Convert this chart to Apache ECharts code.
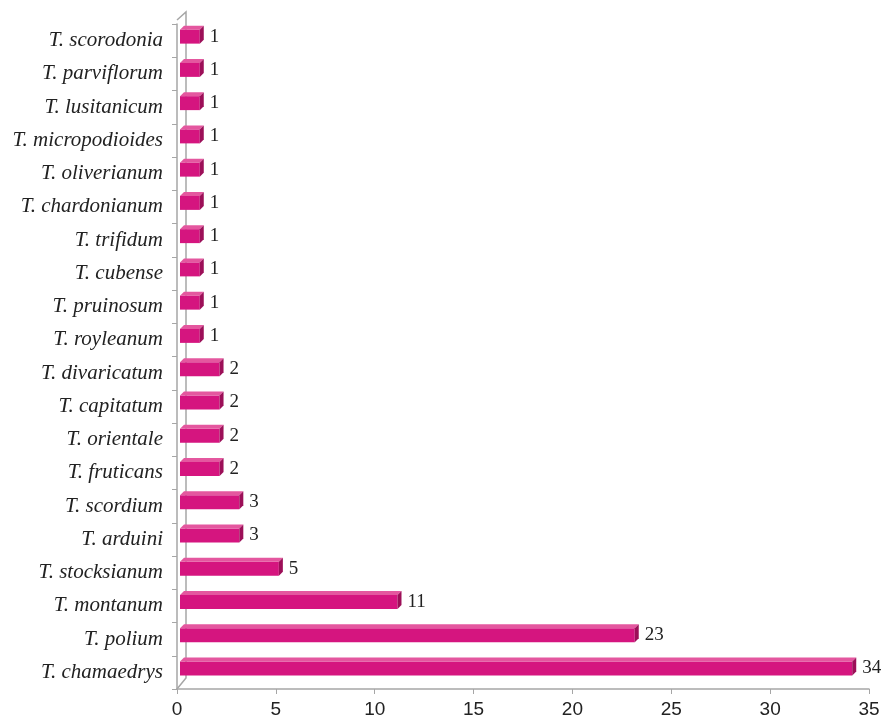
<!DOCTYPE html>
<html>
<head>
<meta charset="utf-8">
<script src="https://cdn.jsdelivr.net/npm/echarts@6/dist/echarts.min.js"></script>
<style>
  html, body { margin: 0; padding: 0; background: #fff; }
  #chart { width: 888px; height: 719px; }
</style>
</head>
<body>
<div id="chart"></div>
<script>
var species = ['T. chamaedrys', 'T. polium', 'T. montanum', 'T. stocksianum', 'T. arduini',
  'T. scordium', 'T. fruticans', 'T. orientale', 'T. capitatum', 'T. divaricatum',
  'T. royleanum', 'T. pruinosum', 'T. cubense', 'T. trifidum', 'T. chardonianum',
  'T. oliverianum', 'T. micropodioides', 'T. lusitanicum', 'T. parviflorum', 'T. scorodonia'];
var counts = [34, 23, 11, 5, 3, 3, 2, 2, 2, 2, 1, 1, 1, 1, 1, 1, 1, 1, 1, 1];
var xTicks = [0, 35, 5];

var dom = document.getElementById('chart');
var myChart = echarts.init(dom);

var axisGray = '#a6a6a6';
var depth = 4;

function renderBar(params, api) {
	var v = api.value(0);
	var cat = api.value(1);
	var start = api.coord([0, cat]);
	var end = api.coord([v, cat]);
	var h = 14;
	var cy = start[1] - 4;
	var x0 = start[0] + 3;
	var x1 = end[0] + 3;
	var yT = cy - h / 2;
	var yB = cy + h / 2;
	return {
		type: 'group',
		children: [
			{
				type: 'rect',
				shape: { x: x0, y: yT, width: x1 - x0, height: h },
				style: { fill: '#d5157f' }
			},
			{
				type: 'polygon',
				shape: { points: [[x0, yT], [x0 + depth, yT - depth], [x1 + depth, yT - depth], [x1, yT]] },
				style: { fill: '#e4579f' }
			},
			{
				type: 'polygon',
				shape: { points: [[x1, yT], [x1 + depth, yT - depth], [x1 + depth, yB - depth], [x1, yB]] },
				style: { fill: '#9c0f58' }
			},
			{
				type: 'text',
				style: {
					text: String(v),
					x: x1 + depth + 6,
					y: cy,
					verticalAlign: 'middle',
					fill: '#222',
					font: '19px "Liberation Serif", serif'
				}
			}
		]
	};
}

option = {
	backgroundColor: '#fff',
	animation: false,
	grid: {
		left: 177,
		right: 19,
		top: 24,
		bottom: 28
	},
	xAxis: {
		type: 'value',
		min: xTicks[0],
		max: xTicks[1],
		interval: xTicks[2],
		axisLine: { show: true, lineStyle: { color: axisGray, width: 1.5 } },
		axisTick: { show: true, length: 5, lineStyle: { color: axisGray } },
		splitLine: { show: false },
		axisLabel: {
			color: '#222',
			fontSize: 19,
			fontFamily: 'Liberation Sans',
			margin: 11
		}
	},
	yAxis: {
		type: 'category',
		data: species,
		axisLine: { show: true, lineStyle: { color: axisGray, width: 1.5 } },
		axisTick: { show: true, length: 5, lineStyle: { color: axisGray } },
		axisLabel: {
			color: '#222',
			fontSize: 21,
			fontStyle: 'italic',
			fontFamily: 'Liberation Serif',
			margin: 14
		}
	},
	series: [
		{
			type: 'custom',
			renderItem: renderBar,
			encode: { x: 0, y: 1 },
			data: counts.map(function(c, i) { return [c, i]; })
		}
	]
};

myChart.setOption(option, true);

// 3D wall lines behind the bars
var topLeft = myChart.convertToPixel({ gridIndex: 0 }, [0, species.length - 1]);
var botLeft = myChart.convertToPixel({ gridIndex: 0 }, [0, 0]);
var band = Math.abs(topLeft[1] - botLeft[1]) / (species.length - 1);
var gx = topLeft[0];
var gTop = topLeft[1] - band / 2;
var gBot = botLeft[1] + band / 2;
var wall = 9;
myChart.setOption({
	graphic: [
		{
			type: 'polyline',
			z: -1,
			shape: { points: [[gx, gTop - 4], [gx + wall, gTop - 12], [gx + wall, gBot - 11], [gx, gBot]] },
			style: { stroke: axisGray, lineWidth: 1.5, fill: null }
		}
	]
});
</script>
</body>
</html>
